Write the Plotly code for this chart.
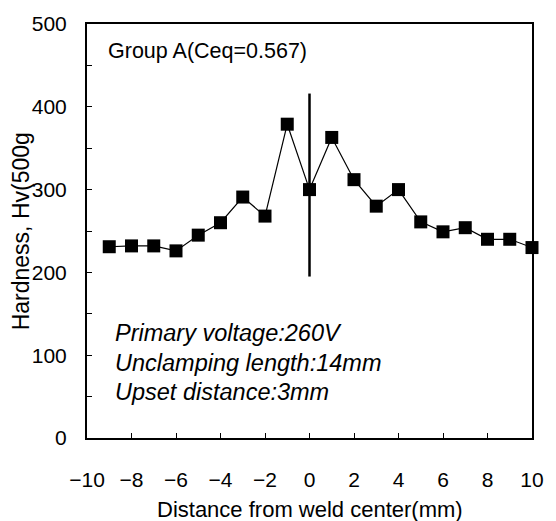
import plotly.graph_objects as go

# Data
distance_mm = [-9, -8, -7, -6, -5, -4, -3, -2, -1, 0, 1, 2, 3, 4, 5, 6, 7, 8, 9, 10]
hardness_hv = [231, 232, 232, 226, 245, 260, 291, 268, 379, 300, 363, 312, 280, 300, 261, 249, 254, 240, 240, 230]

center_line_x = [0, 0]
center_line_y = [195, 416]

x_tick_vals = [-10, -8, -6, -4, -2, 0, 2, 4, 6, 8, 10]
y_tick_vals = [0, 100, 200, 300, 400, 500]

x_title = "Distance from weld center(mm)"
y_title = "Hardness, Hv(500g"
group_label = "Group A(Ceq=0.567)"
condition_lines = ["Primary voltage:260V", "Unclamping length:14mm", "Upset distance:3mm"]

FONT = "Liberation Sans, Arial, sans-serif"

fig = go.Figure()

fig.add_trace(go.Scatter(
    x=center_line_x, y=center_line_y, mode="lines",
    line=dict(color="black", width=2.5), showlegend=False, hoverinfo="skip"))

fig.add_trace(go.Scatter(
    x=distance_mm, y=hardness_hv, mode="lines+markers",
    line=dict(color="black", width=1.2),
    marker=dict(symbol="square", size=13, color="black"),
    cliponaxis=False, showlegend=False))

fig.add_annotation(x=-9.16, y=467, xref="x", yref="y", text=group_label,
                   showarrow=False, xanchor="left", yanchor="middle",
                   font=dict(family=FONT, size=21.5, color="black"))

cond_y = [127, 91, 55]
for txt, yy in zip(condition_lines, cond_y):
    fig.add_annotation(x=-8.82, y=yy, xref="x", yref="y", text="<i>" + txt + "</i>",
                       showarrow=False, xanchor="left", yanchor="middle",
                       font=dict(family=FONT, size=23.5, color="black"))

# axis titles
fig.add_annotation(x=0.5, y=-0.172, xref="paper", yref="paper", text=x_title,
                   showarrow=False, xanchor="center", yanchor="middle",
                   font=dict(family=FONT, size=22, color="black"))
fig.add_annotation(x=-0.1476, y=0.5, xref="paper", yref="paper", text=y_title,
                   textangle=-90, showarrow=False, xanchor="center", yanchor="middle",
                   font=dict(family=FONT, size=23, color="black"))

fig.update_xaxes(
    range=[-10, 10], tickvals=x_tick_vals, ticks="inside", ticklen=5, tickwidth=1.2,
    tickcolor="black", showline=True, linewidth=2, linecolor="black", mirror=True,
    showgrid=False, zeroline=False, ticklabelstandoff=22,
    tickfont=dict(family=FONT, size=21, color="black"))

fig.update_yaxes(
    range=[0, 500], tickvals=y_tick_vals, ticks="inside", ticklen=5, tickwidth=1.2,
    tickcolor="black", showline=True, linewidth=2, linecolor="black", mirror=True,
    showgrid=False, zeroline=False, ticklabelstandoff=14,
    minor=dict(dtick=50, ticks="inside", ticklen=5, tickwidth=1.2, tickcolor="black"),
    tickfont=dict(family=FONT, size=21, color="black"))

fig.update_layout(
    width=556, height=521, margin=dict(l=87, r=15, t=22, b=83),
    paper_bgcolor="white", plot_bgcolor="white", showlegend=False)

fig.write_html("out.html")
